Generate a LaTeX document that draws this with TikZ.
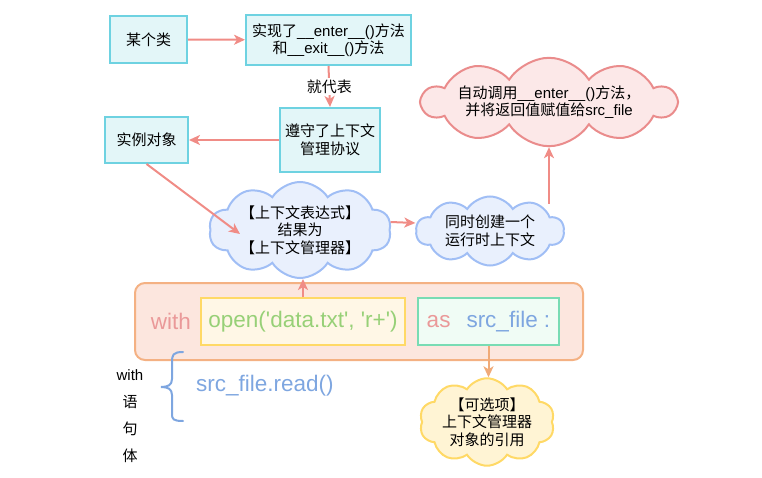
\documentclass[tikz,border=0pt]{standalone}
\usepackage{fontspec}
\setmainfont{Liberation Sans}
\newfontfamily\cjk{Noto Sans CJK SC}
\usetikzlibrary{shapes.symbols,arrows.meta}
\newcommand\zh[1]{{\cjk #1}}
\newcommand\sq{\textquotesingle}
\definecolor{boxB}{RGB}{110,210,225}
\definecolor{boxF}{RGB}{227,246,248}
\definecolor{arrC}{RGB}{240,140,134}
\definecolor{bluB}{RGB}{160,190,245}
\definecolor{bluF}{RGB}{233,240,253}
\definecolor{pnkB}{RGB}{234,140,140}
\definecolor{pnkF}{RGB}{252,232,232}
\definecolor{bigB}{RGB}{244,177,131}
\definecolor{bigF}{RGB}{252,230,222}
\definecolor{ylwB}{RGB}{255,217,102}
\definecolor{ylwF}{RGB}{255,247,230}
\definecolor{ylwF2}{RGB}{255,244,212}
\definecolor{grnB}{RGB}{120,220,180}
\definecolor{grnF}{RGB}{240,252,245}
\definecolor{withC}{RGB}{234,153,153}
\definecolor{openC}{RGB}{151,208,119}
\definecolor{srcC}{RGB}{126,166,224}
\definecolor{orgA}{RGB}{240,170,120}
\tikzset{
  cbox/.style={draw=boxB, fill=boxF, line width=2pt, align=center, inner sep=0pt,
    font=\fontsize{15}{17.5}\selectfont},
  cld/.style={cloud, cloud puffs=10, cloud puff arc=115, cloud ignores aspect,
    line width=2pt, align=center, inner sep=0pt, font=\fontsize{15}{17.5}\selectfont},
  arr/.style={draw=arrC, line width=2pt, -{Stealth[length=11pt,width=10pt,inset=3pt]}},
  code/.style={font=\fontsize{22.5}{27}\selectfont, inner sep=0pt}
}
\begin{document}
\begin{tikzpicture}[x=1pt,y=-1pt]
\path[use as bounding box] (0,0) rectangle (762,478);

\node[cbox, minimum width=77pt, minimum height=47pt] (n1) at (148.5,39.5) {\zh{某个类}};
\node[cbox, minimum width=165pt, minimum height=50pt] (n2) at (328.5,40)
  {\zh{实现了}\_\_enter\_\_()\zh{方法}\\\zh{和}\_\_exit\_\_()\zh{方法}};
\node[cbox, minimum width=100pt, minimum height=64pt] (n3) at (330,140)
  {\zh{遵守了上下文}\\\zh{管理协议}};
\node[cbox, minimum width=83pt, minimum height=46pt] (n4) at (146.5,140) {\zh{实例对象}};

\node[cld, draw=bluB, fill=bluF, minimum width=182pt, minimum height=96pt] (c1) at (300,230)
  {\zh{【上下文表达式】}\\\zh{结果为}\\\zh{【上下文管理器】}};
\node[cld, draw=bluB, fill=bluF, minimum width=148pt, minimum height=69pt] (c2) at (490,231)
  {\zh{同时创建一个}\\\zh{运行时上下文}};
\node[cld, draw=pnkB, fill=pnkF, minimum width=243pt, minimum height=83pt] (c3) at (549,102)
  {\zh{自动调用}\_\_enter\_\_()\zh{方法，}\\\zh{并将返回值赋值给}src\_file};

\node[draw=bigB, fill=bigF, line width=2pt, rounded corners=10pt, minimum width=448pt,
  minimum height=77pt, inner sep=0pt] (big) at (359,321.5) {};
\node[draw=ylwB, fill=ylwF, line width=2pt, minimum width=204pt, minimum height=47pt,
  inner sep=0pt] (ob) at (303,321.5) {};
\node[code, text=openC] (obt) at (ob.center) {open(\sq data.txt\sq, \sq r+\sq)};
\node[draw=grnB, fill=grnF, line width=2pt, minimum width=141pt, minimum height=47pt,
  inner sep=0pt] (ab) at (488.5,321.5) {};
\node[code] (abt) at (ab.center) {\textcolor{withC}{as}\hspace{16pt}\textcolor{srcC}{src\_file :}};
\node[code, text=withC] (wt) at (171,321.5) {with};

\node[cld, draw=ylwB, fill=ylwF2, minimum width=135pt, minimum height=73pt] (c4) at (487,422)
  {\zh{【可选项】}\\\zh{上下文管理器}\\\zh{对象的引用}};

\node[code, text=srcC, anchor=west] (rd) at (196,386) {src\_file.read()};
\node[align=center, inner sep=0pt, font=\fontsize{15}{27}\selectfont] (wb) at (130,416)
  {with\\\zh{语}\\\zh{句}\\\zh{体}};
\draw[srcC, line width=2pt, line cap=round]
  (183,352) .. controls (173,352) and (172,355) .. (172,362) -- (172,379)
  .. controls (172,385) and (168,387) .. (161,387)
  .. controls (168,387) and (172,389) .. (172,395) -- (172,414)
  .. controls (172,419) and (173,421) .. (183,421);

\coordinate (c1in) at (240,234);
\coordinate (c2top) at (549,204);

\draw[arr] (n1) -- (n2);
\draw[arr] (n2.south) -- (n3.north)
  node[midway, fill=white, inner sep=2pt, font=\fontsize{15}{17}\selectfont] (lb) {\zh{就代表}};
\draw[arr] (n3) -- (n4);
\draw[arr] (n4.south) -- (c1in);
\draw[arr] ([yshift=8pt]c1.east) -- ([yshift=8pt]c2.west);
\draw[arr] (c2top) -- (c3.south);
\draw[arr] (ob.north) -- (ob.north |- c1.south);
\draw[arr, draw=orgA] (ab.south) -- (ab.south |- c4.north);
\end{tikzpicture}
\end{document}
